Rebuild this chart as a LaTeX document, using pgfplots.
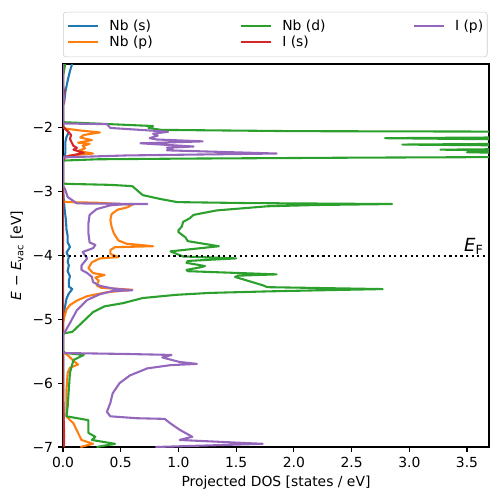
\documentclass[border=0pt]{standalone}
\usepackage{pgfplots}
\pgfplotsset{compat=1.18}
\usepackage{fontspec}
\setmainfont{DejaVu Sans}
\definecolor{tabblue}{HTML}{1F77B4}
\definecolor{taborange}{HTML}{FF7F0E}
\definecolor{tabgreen}{HTML}{2CA02C}
\definecolor{tabred}{HTML}{D62728}
\definecolor{tabpurple}{HTML}{9467BD}
\begin{document}
\begin{tikzpicture}
\useasboundingbox (-45.4pt,-39.6pt) rectangle (313.2pt,321.9pt);
\begin{axis}[
  scale only axis, width=306.7pt, height=275.8pt,
  xmin=0, xmax=3.69, ymin=-7, ymax=-1.01,
  xtick={0,0.5,1,1.5,2,2.5,3,3.5},
  xticklabels={0.0,0.5,1.0,1.5,2.0,2.5,3.0,3.5},
  ytick={-7,-6,-5,-4,-3,-2},
  yticklabels={−7,−6,−5,−4,−3,−2},
  tick pos=left, tick align=outside, major tick length=3.5pt,
  every tick/.style={black, line width=0.8pt},
  axis line style={line width=0.8pt},
  tick label style={font=\fontsize{10}{12}\selectfont, inner sep=0pt},
  xticklabel shift=3.5pt, yticklabel shift=3.5pt,
  xlabel={Projected DOS [states / eV]},
  ylabel={\textit{E} − \textit{E}\textsubscript{vac} [eV]},
  every axis x label/.style={at={(axis description cs:0.5,-0.094)}, anchor=center, font=\fontsize{10}{12}\selectfont},
  every axis y label/.style={at={(axis description cs:-0.108,0.5)}, anchor=center, rotate=90, font=\fontsize{10}{12}\selectfont},
  legend columns=3,
  legend cell align=left,
  legend image code/.code={\draw[#1] (0pt,0pt) -- (21.6pt,0pt);},
  legend style={
    at={(0,1)}, anchor=south west, yshift=5pt,
    draw=black!20, rounded corners=2pt, fill=white, fill opacity=0.8, text opacity=1,
    inner xsep=2.9pt, inner ysep=5.8pt,
    nodes={inner sep=0pt},
    /tikz/every odd column/.append style={column sep=7.2pt},
    /tikz/every even column/.append style={column sep=63pt},
    /tikz/row sep=2.4pt,
    font=\fontsize{10}{12}\selectfont,
  },
  every axis plot/.append style={line width=1.5pt, line join=round},
]
% Nb (s)
\addplot[tabblue, forget plot] coordinates {
(0.004,-7.0) (0.006,-6.8) (0.004,-6.5) (0.003,-6.0) (0.002,-5.6) (0,-5.5) (0,-5.0)
(0.005,-4.92) (0.02,-4.78) (0.03,-4.68) (0.05,-4.6) (0.08,-4.53) (0.05,-4.49) (0.05,-4.4)
(0.06,-4.33) (0.04,-4.25) (0.05,-4.16) (0.04,-4.1) (0.05,-4.03) (0.03,-3.96) (0.06,-3.87)
(0.04,-3.8) (0.04,-3.7) (0.03,-3.6) (0.025,-3.45) (0.015,-3.3) (0.005,-3.1) (0,-2.95)
(0,-2.5) (0.01,-2.47) (0.02,-2.4) (0.02,-2.3) (0.02,-2.23) (0.03,-2.15) (0.05,-2.08)
(0.03,-2.04) (0.005,-2.0) (0,-1.95) (0,-1.66) (0.01,-1.6) (0.02,-1.45) (0.04,-1.27)
(0.06,-1.12) (0.08,-1.0)
};
% Nb (p)
\addplot[taborange, forget plot] coordinates {
(0.15,-7.0) (0.26,-6.95) (0.16,-6.89) (0.13,-6.78) (0.09,-6.63) (0.05,-6.56) (0.03,-6.52)
(0.03,-6.3) (0.03,-6.1) (0.04,-5.84) (0.06,-5.76) (0.13,-5.71) (0.09,-5.65) (0.05,-5.58)
(0.03,-5.55) (0,-5.52) (0,-5.3) (0,-5.06) (0.01,-4.97) (0.03,-4.85) (0.06,-4.78)
(0.12,-4.71) (0.21,-4.64) (0.38,-4.58) (0.6,-4.54) (0.33,-4.51) (0.29,-4.47) (0.31,-4.4)
(0.28,-4.35) (0.36,-4.31) (0.26,-4.28) (0.22,-4.2) (0.25,-4.11) (0.32,-4.05) (0.48,-4.03)
(0.41,-3.98) (0.41,-3.92) (0.45,-3.875) (0.78,-3.86) (0.55,-3.82) (0.48,-3.77) (0.44,-3.66)
(0.42,-3.55) (0.41,-3.45) (0.42,-3.36) (0.47,-3.29) (0.56,-3.25) (0.6,-3.21) (0.3,-3.18)
(0.05,-3.17) (0,-3.16) (0,-2.5) (0.01,-2.47) (0.06,-2.44) (0.26,-2.41) (0.13,-2.37)
(0.19,-2.33) (0.17,-2.29) (0.23,-2.26) (0.13,-2.24) (0.25,-2.2) (0.15,-2.16) (0.18,-2.12)
(0.32,-2.08) (0.15,-2.05) (0.02,-2.02) (0,-2.0) (0,-1.0)
};
% Nb (d)
\addplot[tabgreen, forget plot] coordinates {
(0.29,-7.0) (0.45,-6.95) (0.25,-6.89) (0.28,-6.84) (0.22,-6.78) (0.22,-6.58) (0.03,-6.52)
(0.04,-6.37) (0.05,-6.1) (0.06,-5.84) (0.09,-5.64) (0.18,-5.56) (0.02,-5.53) (0,-5.5)
(0,-5.24) (0.01,-5.22) (0.08,-5.2) (0.26,-4.89) (0.36,-4.80) (0.52,-4.75) (0.69,-4.67)
(0.98,-4.62) (1.27,-4.59) (1.8,-4.565) (2.2,-4.55) (2.77,-4.53) (1.77,-4.50) (1.73,-4.47)
(1.49,-4.34) (1.52,-4.32) (1.85,-4.30) (1.08,-4.25) (1.07,-4.23) (1.19,-4.19) (1.23,-4.17)
(1.07,-4.12) (1.08,-4.09) (1.5,-4.05) (1.04,-4.02) (0.93,-3.94) (1.35,-3.86) (1.08,-3.78)
(1.06,-3.72) (1.0,-3.64) (1.0,-3.61) (1.03,-3.55) (1.04,-3.48) (1.1,-3.42) (1.13,-3.37)
(1.33,-3.30) (1.77,-3.235) (2.2,-3.215) (2.85,-3.20) (1.6,-3.185) (0.99,-3.17) (0.84,-3.12)
(0.69,-3.06) (0.6,-2.92) (0.41,-2.9) (0.05,-2.885) (0,-2.88) (0,-2.52) (0.3,-2.50)
(1.0,-2.49) (2.5,-2.475) (4.5,-2.46) (5,-2.45) (4.5,-2.42) (3.5,-2.39) (4.5,-2.37)
(5,-2.36) (3.27,-2.35) (4.5,-2.33) (5,-2.3) (2.94,-2.27) (4.5,-2.25) (5,-2.21)
(2.79,-2.17) (4.5,-2.15) (5,-2.1) (4.5,-2.07) (2,-2.06) (0.85,-2.04) (0.74,-2.01)
(0.78,-1.98) (0.4,-1.95) (0,-1.92) (0,-1.2) (0.01,-1.1) (0.02,-1.0)
};
% I (s)
\addplot[tabred, forget plot] coordinates {
(0.006,-7.0) (0.01,-6.9) (0.008,-6.7) (0.004,-6.5) (0,-6.3) (0,-2.52) (0.02,-2.46)
(0.18,-2.40) (0.09,-2.35) (0.12,-2.32) (0.09,-2.29) (0.07,-2.22) (0.06,-2.18) (0.07,-2.12)
(0.04,-2.06) (0.01,-2.01) (0,-1.98) (0,-1.65) (0.01,-1.6) (0.01,-1.45) (0,-1.35) (0,-1.0)
};
% I (p)
\addplot[tabpurple, forget plot] coordinates {
(0.8,-7.0) (1.73,-6.95) (1.01,-6.89) (1.12,-6.84) (1.01,-6.73) (0.93,-6.63) (0.88,-6.56)
(0.64,-6.55) (0.41,-6.52) (0.38,-6.45) (0.41,-6.31) (0.43,-6.16) (0.49,-6.0) (0.58,-5.88)
(0.73,-5.77) (0.93,-5.72) (1.16,-5.70) (1.01,-5.67) (0.86,-5.6) (0.94,-5.56) (0.55,-5.545)
(0,-5.53) (0,-5.24) (0.01,-5.22) (0.06,-5.06) (0.12,-4.86) (0.21,-4.70) (0.32,-4.61)
(0.43,-4.56) (0.6,-4.55) (0.43,-4.52) (0.32,-4.48) (0.26,-4.42) (0.25,-4.34) (0.21,-4.28)
(0.16,-4.23) (0.16,-4.16) (0.21,-4.05) (0.17,-3.95) (0.26,-3.89) (0.28,-3.84) (0.23,-3.80)
(0.22,-3.66) (0.22,-3.5) (0.23,-3.37) (0.29,-3.28) (0.41,-3.22) (0.52,-3.205) (0.73,-3.2)
(0.12,-3.19) (0.04,-3.09) (0.02,-2.98) (0,-2.91) (0,-2.47) (0.55,-2.44) (1.85,-2.41)
(0.9,-2.36) (0.95,-2.33) (0.9,-2.32) (1.13,-2.30) (0.67,-2.25) (1.21,-2.22) (0.81,-2.19)
(0.75,-2.17) (0.82,-2.13) (0.78,-2.10) (0.91,-2.07) (0.84,-2.06) (0.41,-2.01) (0.38,-1.95)
(0,-1.94) (0,-1.65) (0.01,-1.55) (0,-1.45) (0,-1.0)
};
% E_F
\addplot[black, line width=1.5pt, dash pattern=on 1.5pt off 2.475pt, forget plot] coordinates {(0,-4.01) (3.69,-4.01)};
\node[anchor=base east, inner sep=0pt, font=\fontsize{13}{15}\selectfont] at (axis cs:3.645,-3.94) {\textit{E}\textsubscript{F}};
\addlegendimage{tabblue, line width=1.5pt}
\addlegendentry{Nb (s)}
\addlegendimage{tabgreen, line width=1.5pt}
\addlegendentry{Nb (d)}
\addlegendimage{tabpurple, line width=1.5pt}
\addlegendentry{I (p)}
\addlegendimage{taborange, line width=1.5pt}
\addlegendentry{Nb (p)}
\addlegendimage{tabred, line width=1.5pt}
\addlegendentry{I (s)}
\end{axis}
\end{tikzpicture}
\end{document}
